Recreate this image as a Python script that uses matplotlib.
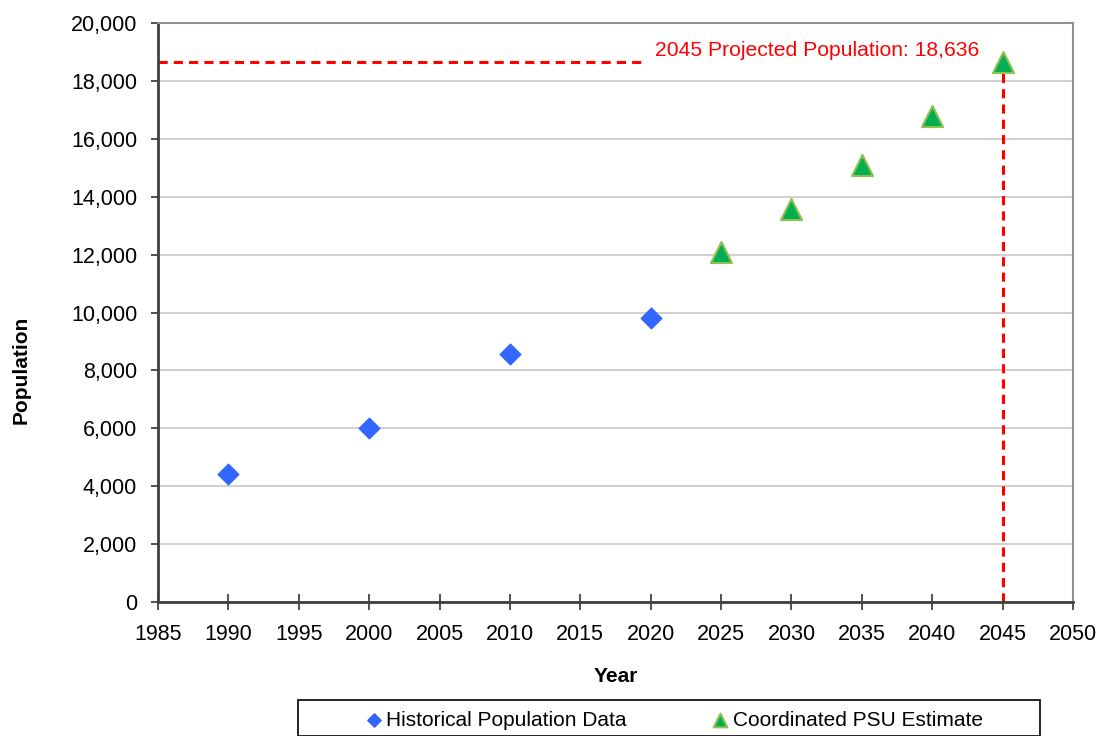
import matplotlib.pyplot as plt
from matplotlib.ticker import FuncFormatter, MultipleLocator
from matplotlib.patches import Rectangle

hist_years = [1990, 2000, 2010, 2020]
hist_pop = [4420, 6020, 8570, 9810]
psu_years = [2025, 2030, 2035, 2040, 2045]
psu_pop = [12100, 13560, 15110, 16790, 18636]
proj_year = 2045
proj_pop = 18636
proj_label = "2045 Projected Population: 18,636"

plt.rcParams['font.family'] = ['Liberation Sans', 'DejaVu Sans']

W, H = 1097, 736
fig = plt.figure(figsize=(W / 100, H / 100), dpi=100)
ax = fig.add_axes([158 / W, 1 - 602 / H, (1073 - 158) / W, (602 - 23) / H])

ax.scatter(hist_years, hist_pop, marker='D', s=110, color='#3366ff', zorder=3,
           label='Historical Population Data')
ax.scatter(psu_years, psu_pop, marker='^', s=230, color='#00b050', edgecolors='#92c050',
           linewidths=1.5, zorder=3, label='Coordinated PSU Estimate')

# projection guide lines
ax.plot([1985, 2019.5], [proj_pop, proj_pop], color='red', lw=2.2, ls=(0, (3, 2)), zorder=2)
ax.plot([proj_year, proj_year], [0, proj_pop], color='red', lw=2.2, ls=(0, (3, 2)), zorder=2)
ax.text(2020.3, 19050, proj_label, color='red', fontsize=15.2, va='center', ha='left')

ax.set_xlim(1985, 2050)
ax.set_ylim(0, 20000)
ax.xaxis.set_major_locator(MultipleLocator(5))
ax.yaxis.set_major_locator(MultipleLocator(2000))
ax.yaxis.set_major_formatter(FuncFormatter(lambda v, p: f"{int(v):,}"))
ax.grid(axis='y', color='#c8c8c8', lw=1.2)
ax.set_axisbelow(True)
ax.tick_params(axis='x', labelsize=15.5, direction='inout', length=12, width=1.2,
               color='#333333', pad=10)
ax.tick_params(axis='y', labelsize=15.5, direction='out', length=5, width=1.2,
               color='#333333', pad=10)

for s in ['left', 'bottom']:
    ax.spines[s].set_color('#404040')
    ax.spines[s].set_linewidth(2)
for s in ['top', 'right']:
    ax.spines[s].set_color('#909090')
    ax.spines[s].set_linewidth(1.5)

ax.set_xlabel('Year', fontsize=15, fontweight='bold')
ax.xaxis.label.set_va('center')
ax.xaxis.set_label_coords(0.5, -(676 - 602) / 579)
ax.set_ylabel('Population', fontsize=15, fontweight='bold')
ax.yaxis.label.set_va('center')
ax.yaxis.set_label_coords((21 - 158) / 915, 0.5 - (370 - 312.5) / 579)

# legend box
fig.patches.append(Rectangle((298 / W, 0), (1040 - 298) / W, (736 - 700) / H,
                             transform=fig.transFigure, fill=False, edgecolor='black',
                             lw=1.2))
leg = fig.legend(loc='center', bbox_to_anchor=(673 / W, 1 - 720 / H), ncol=2,
                 fontsize=15, frameon=False, handletextpad=0.1, handlelength=1.0,
                 columnspacing=4.0, markerscale=0.65, scatterpoints=1)

fig.savefig('out.png', dpi=100)
